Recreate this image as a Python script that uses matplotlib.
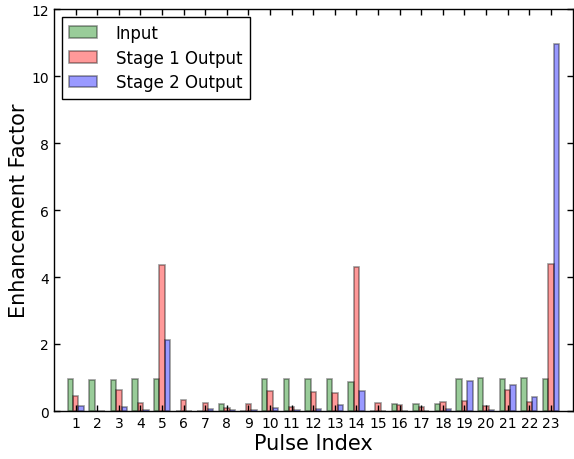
import numpy as np
import matplotlib
matplotlib.use("Agg")
import matplotlib.pyplot as plt

pulses = list(range(1, 24))
input_vals = [0.96, 0.92, 0.93, 0.96, 0.96, 0.0, 0.0, 0.20, 0.0, 0.96, 0.95, 0.95,
              0.95, 0.87, 0.0, 0.21, 0.21, 0.21, 0.96, 0.98, 0.95, 0.98, 0.95]
stage1_vals = [0.46, 0.01, 0.63, 0.23, 4.35, 0.32, 0.23, 0.10, 0.20, 0.60, 0.11, 0.57,
               0.55, 4.30, 0.23, 0.18, 0.13, 0.26, 0.30, 0.14, 0.63, 0.27, 4.39]
stage2_vals = [0.14, 0.01, 0.11, 0.04, 2.11, 0.01, 0.06, 0.02, 0.04, 0.08, 0.04, 0.06,
               0.19, 0.60, 0.01, 0.01, 0.01, 0.06, 0.90, 0.04, 0.79, 0.43, 10.96]
labels = ["Input", "Stage 1 Output", "Stage 2 Output"]

fig = plt.figure(figsize=(5.74, 4.6), dpi=100)
ax = fig.add_axes([54/574, 1-412/460, (572.5-54)/574, (412-10)/460])

x = np.array(pulses)
w = 0.25
kw = dict(width=w, alpha=0.4, edgecolor='k', linewidth=1.2)
ax.bar(x - w, input_vals, color='g', label=labels[0], **kw)
ax.bar(x, stage1_vals, color='r', label=labels[1], **kw)
ax.bar(x + w, stage2_vals, color='b', label=labels[2], **kw)

ax.set_xlim(0, 24)
ax.set_ylim(0, 12)
ax.set_xticks(pulses)
ax.set_xticklabels([str(p) for p in pulses])
ax.set_yticks(range(0, 13, 2))
ax.tick_params(direction='in', top=True, right=True, length=4, width=1, labelsize=10)
ax.set_xlabel("Pulse Index", fontsize=15, labelpad=2)
ax.set_ylabel("Enhancement Factor", fontsize=15, labelpad=1.5)
for s in ax.spines.values():
    s.set_linewidth(1.0)

leg = ax.legend(loc='upper left', fontsize=12, fancybox=False, framealpha=1,
                edgecolor='k', borderaxespad=0.45, handlelength=1.7,
                handletextpad=1.1, labelspacing=0.4, borderpad=0.45)
leg.get_frame().set_linewidth(1.0)

fig.savefig("out.png", dpi=100)
